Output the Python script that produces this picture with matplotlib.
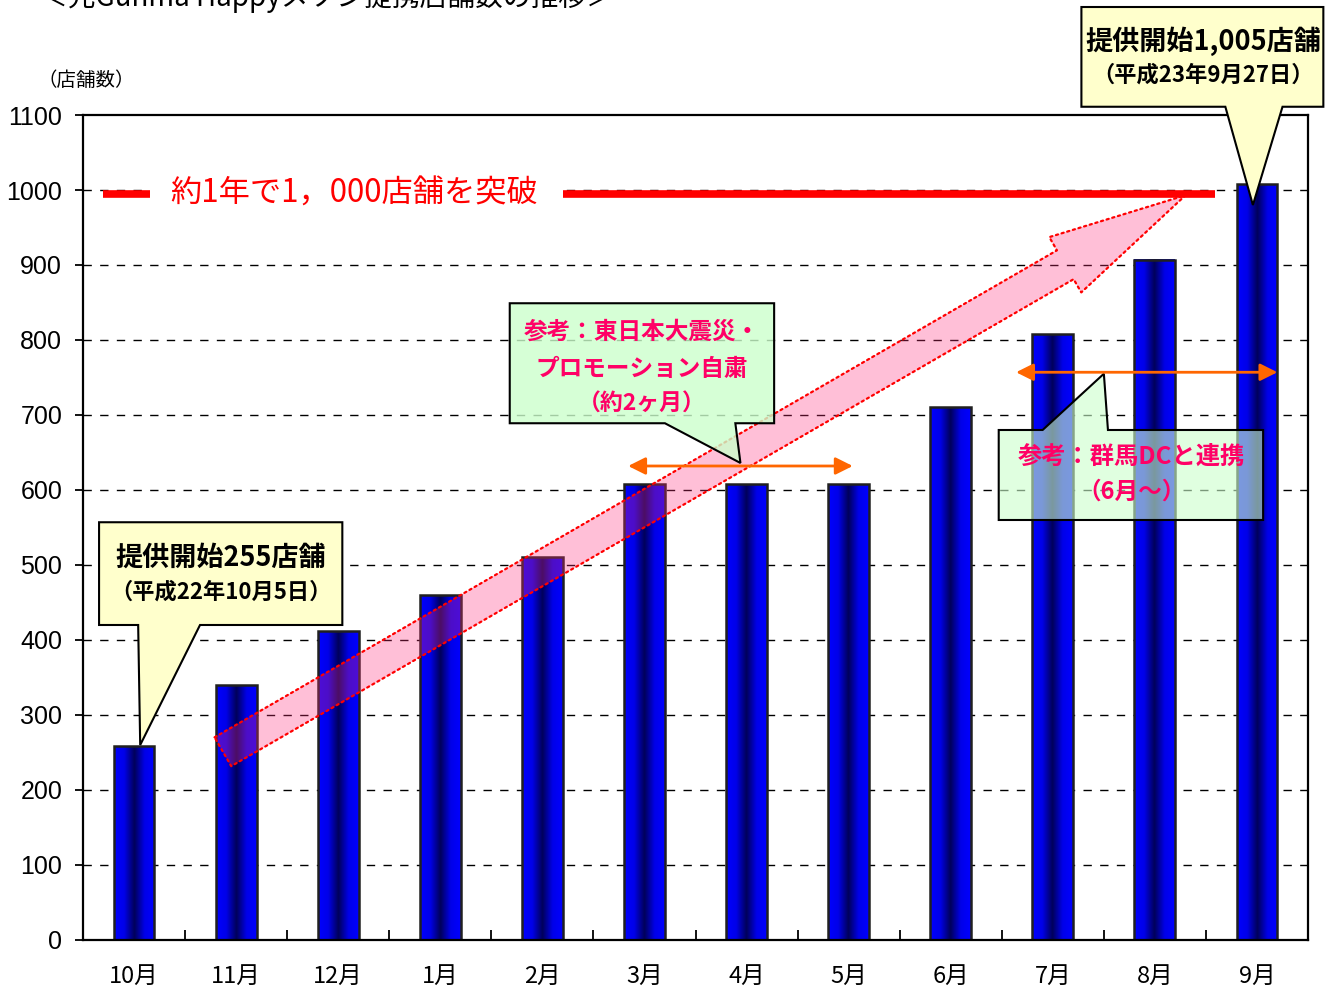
import matplotlib
matplotlib.use("Agg")
import matplotlib.pyplot as plt
from matplotlib.colors import LinearSegmentedColormap
from matplotlib.patches import Polygon, ArrowStyle
import numpy as np

plt.rcParams['font.family'] = ['Noto Sans CJK JP', 'DejaVu Sans']

# data
months = ['10月', '11月', '12月', '1月', '2月', '3月', '4月', '5月', '6月', '7月', '8月', '9月']
stores = [258, 340, 412, 460, 510, 608, 608, 608, 710, 808, 907, 1008]
yticks = list(range(0, 1101, 100))

title = '＜元Gunma Happyメソン提携店舗数の推移＞'
goal_text = '約1年で1，000店舗を突破'
start_text = ['提供開始255店舗', '（平成22年10月5日）']
end_text = ['提供開始1,005店舗', '（平成23年9月27日）']
quake_text = ['参考：東日本大震災・', 'プロモーション自粛', '（約2ヶ月）']
dc_text = ['参考：群馬DCと連携', '（6月～）']

fig = plt.figure(figsize=(13.35, 9.88), dpi=100)
ax = fig.add_axes([0.0622, 0.0486, 0.9176, 0.835])

x = np.arange(len(months))
bar_w = 0.4

# gradient bars
cmap = LinearSegmentedColormap.from_list(
    'bar', ['#0000FF', '#0000E8', '#000058', '#0000E8', '#0000FF'])
grad = np.linspace(0, 1, 64).reshape(1, -1)
for xi, h in zip(x, stores):
    ax.imshow(grad, cmap=cmap, aspect='auto', extent=(xi - bar_w / 2, xi + bar_w / 2, 0, h),
              zorder=2, interpolation='bilinear')
ax.bar(x, stores, width=bar_w, fill=False, edgecolor='#202020', linewidth=1.8, zorder=2.5)

ax.set_xlim(-0.5, 11.5)
ax.set_ylim(0, 1100)

# axes style
for s in ax.spines.values():
    s.set_linewidth(1.6)
    s.set_color('black')
ax.set_yticks(yticks)
ax.set_yticklabels([str(v) for v in yticks], fontsize=18, family='Liberation Sans')
ax.tick_params(axis='y', direction='out', length=6, width=1.3, pad=9)
ax.set_xticks(x)
ax.set_xticklabels(months, fontsize=17)
ax.tick_params(axis='x', which='major', length=0, pad=18)
ax.set_xticks(x[:-1] + 0.5, minor=True)
ax.tick_params(axis='x', which='minor', direction='in', length=7, width=1.3)
ax.set_axisbelow(True)
for v in yticks[1:-1]:
    ax.axhline(v, color='black', lw=1, dashes=(6, 6), zorder=1)

fig.text(0.03, 1.002, title, fontsize=20, va='center', ha='left')
fig.text(0.028, 0.919, '（店舗数）', fontsize=14, va='center', ha='left')

# big pink arrow
ax.annotate('', xy=(10.30, 993), xytext=(0.87, 251),
            arrowprops=dict(arrowstyle=ArrowStyle.Simple(head_length=100, head_width=46, tail_width=24),
                            mutation_scale=1, shrinkA=0, shrinkB=0,
                            fc=(1.0, 0.18, 0.49, 0.3), ec='red', ls=':', lw=1.6),
            zorder=3)

# red 1000 line with label (white gap behind the text)
ax.fill_between([0.16, 4.20], 970, 1020, color='white', lw=0, zorder=1.5)
ax.plot([-0.30, 0.16], [995, 995], color='red', lw=5.5, solid_capstyle='butt', zorder=4)
ax.plot([4.20, 10.59], [995, 995], color='red', lw=5.5, solid_capstyle='butt', zorder=4)
ax.text(0.35, 995, goal_text, color='red', fontsize=22.5, va='center', ha='left', zorder=4)


def callout(box, base, tip, side, fc, alpha=1.0):
    x0, x1, y0, y1 = box
    bl, br = base
    if side == 'bottom':
        pts = [(x0, y1), (x1, y1), (x1, y0), (br, y0), tip, (bl, y0), (x0, y0)]
    else:
        pts = [(x0, y0), (x1, y0), (x1, y1), (br, y1), tip, (bl, y1), (x0, y1)]
    ax.add_patch(Polygon(pts, closed=True, fc=fc, alpha=alpha, ec='none', zorder=5, clip_on=False))
    ax.add_patch(Polygon(pts, closed=True, fill=False, ec='black', lw=1.5, zorder=5.1, clip_on=False))


# start callout
callout((-0.343, 2.04, 420, 557), (0.04, 0.646), (0.06, 260), 'bottom', '#FFFFCC')
ax.text(0.85, 510, start_text[0], fontsize=19.5, fontweight='bold', ha='center', va='center', zorder=6)
ax.text(0.85, 464, start_text[1], fontsize=16, fontweight='bold', ha='center', va='center', zorder=6)

# end callout
callout((9.28, 11.65, 1111, 1244), (10.69, 11.25), (10.96, 980), 'bottom', '#FFFFCC')
ax.text(10.47, 1198, end_text[0], fontsize=19.5, fontweight='bold', ha='center', va='center',
        zorder=6, clip_on=False)
ax.text(10.47, 1153, end_text[1], fontsize=16, fontweight='bold', ha='center', va='center',
        zorder=6, clip_on=False)

# earthquake callout
callout((3.68, 6.27, 689, 849), (5.20, 5.89), (5.94, 636), 'bottom', '#CCFFCC', 0.8)
ax.text(4.97, 811, quake_text[0], fontsize=17, fontweight='bold', color='#FF0066', ha='center', va='center', zorder=6)
ax.text(4.97, 761, quake_text[1], fontsize=17, fontweight='bold', color='#FF0066', ha='center', va='center', zorder=6)
ax.text(4.97, 714, quake_text[2], fontsize=16.5, fontweight='bold', color='#FF0066', ha='center', va='center', zorder=6)

# DC callout
callout((8.47, 11.06, 560, 680), (8.90, 9.54), (9.50, 755), 'top', '#CCFFCC', 0.6)
ax.text(9.77, 644, dc_text[0], fontsize=17.5, fontweight='bold', color='#FF0066', ha='center', va='center', zorder=6)
ax.text(9.77, 598, dc_text[1], fontsize=17, fontweight='bold', color='#FF0066', ha='center', va='center', zorder=6)

# orange period arrows
for (xa, xb, yv) in [(4.84, 7.04, 632), (8.64, 11.2, 757)]:
    ax.annotate('', xy=(xb, yv), xytext=(xa, yv),
                arrowprops=dict(arrowstyle='<|-|>', color='#FF6600', lw=2, mutation_scale=26,
                                shrinkA=0, shrinkB=0),
                zorder=7)

fig.savefig('out.png', dpi=100)
